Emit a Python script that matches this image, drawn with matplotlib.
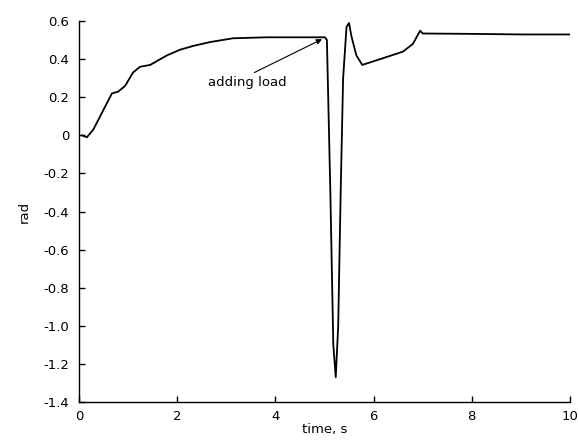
import matplotlib
matplotlib.use("Agg")
import matplotlib.pyplot as plt

# Data
time_s = [0.06, 0.16, 0.29, 0.43, 0.57, 0.67, 0.80, 0.94, 1.10, 1.24, 1.45, 1.79,
          2.06, 2.33, 2.67, 3.14, 3.83, 4.50, 5.01, 5.05, 5.12, 5.18, 5.23, 5.28,
          5.33, 5.38, 5.45, 5.50, 5.55, 5.65, 5.77, 6.13, 6.60, 6.80, 6.95, 7.00,
          8.00, 9.00, 10.00]
angle_rad = [0.0, -0.01, 0.03, 0.10, 0.17, 0.22, 0.23, 0.26, 0.33, 0.36, 0.37, 0.42,
             0.45, 0.47, 0.49, 0.51, 0.515, 0.515, 0.515, 0.50, -0.30, -1.10, -1.27, -1.00,
             -0.30, 0.30, 0.57, 0.59, 0.52, 0.42, 0.37, 0.40, 0.44, 0.48, 0.55, 0.535,
             0.533, 0.530, 0.530]
x_ticks = [0, 2, 4, 6, 8, 10]
y_ticks = [0.6, 0.4, 0.2, 0, -0.2, -0.4, -0.6, -0.8, -1.0, -1.2, -1.4]
y_tick_labels = ["0.6", "0.4", "0.2", "0", "-0.2", "-0.4", "-0.6", "-0.8", "-1.0", "-1.2", "-1.4"]
annot_text = "adding load"
annot_point = (4.95, 0.505)
annot_text_pos = (2.63, 0.278)

plt.rcParams['font.family'] = ['DejaVu Sans']
fig = plt.figure(figsize=(5.78, 4.40), dpi=100)
ax = fig.add_axes([0.1367, 0.0864, 0.986 - 0.1367, 0.952 - 0.0864])
ax.plot(time_s, angle_rad, color='black', linewidth=1.3)
ax.set_xlim(0, 10)
ax.set_ylim(-1.4, 0.6)
ax.set_xticks(x_ticks)
ax.set_xticklabels([str(t) for t in x_ticks])
ax.set_yticks(y_ticks)
ax.set_yticklabels(y_tick_labels)
ax.tick_params(direction='in', length=4, width=1, labelsize=9.5, colors='black')
ax.tick_params(axis='y', pad=7)
ax.tick_params(axis='x', pad=6)
ax.spines['top'].set_visible(False)
ax.spines['right'].set_visible(False)
for s in ['left', 'bottom']:
    ax.spines[s].set_linewidth(1.0)
ax.set_xlabel("time, s", fontsize=9.5, labelpad=0)
ax.set_ylabel("rad", fontsize=9.5, labelpad=9)
ax.annotate(annot_text, xy=annot_point, xytext=annot_text_pos,
            fontsize=9.5, va='center', ha='left',
            arrowprops=dict(arrowstyle='-|>', color='black', lw=0.8,
                            mutation_scale=8, shrinkA=1, shrinkB=0,
                            relpos=(0.5, 1.0)))
fig.savefig("out.png", dpi=100)
